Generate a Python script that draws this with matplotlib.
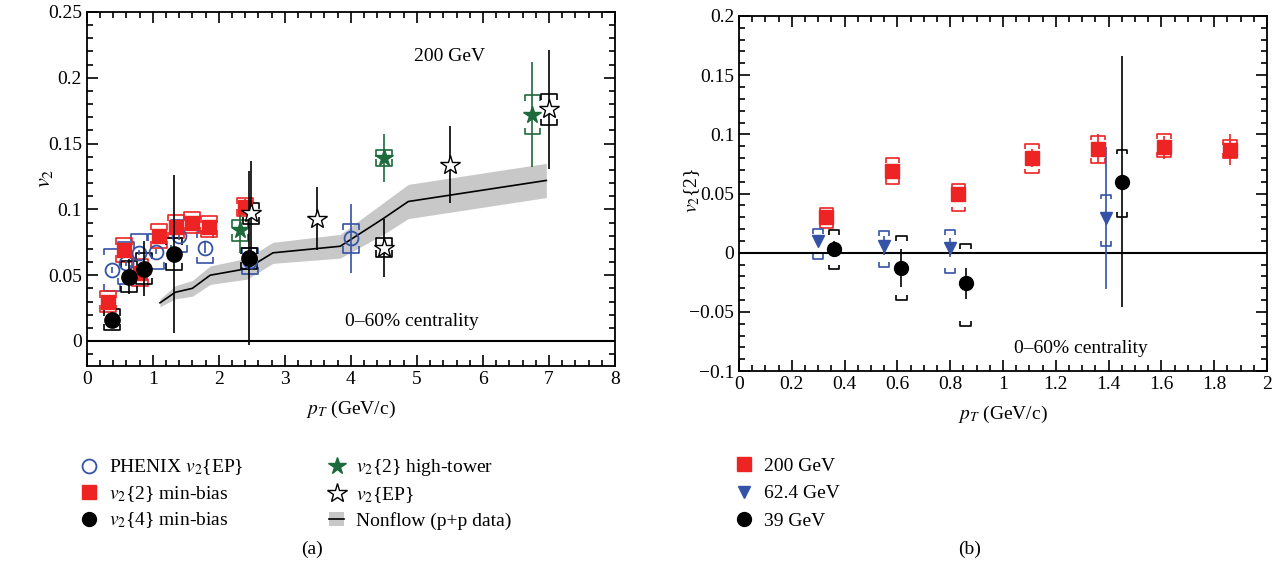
import matplotlib
matplotlib.use("Agg")
import matplotlib.pyplot as plt
from matplotlib.lines import Line2D
from matplotlib.patches import Patch
from matplotlib.legend_handler import HandlerTuple
from matplotlib.ticker import MultipleLocator, FuncFormatter

plt.rcParams['font.family'] = ['Liberation Serif', 'DejaVu Serif']
plt.rcParams['mathtext.fontset'] = 'stix'

# ---------------- Panel (a) data ----------------
phenix_x = [0.38, 0.60, 0.79, 1.05, 1.40, 1.79, 2.47, 4.00]
phenix_y = [0.054, 0.059, 0.067, 0.068, 0.080, 0.071, 0.061, 0.078]
phenix_stat = [0.002, 0.002, 0.002, 0.002, 0.003, 0.004, 0.006, 0.026]
phenix_sys = [0.016, 0.016, 0.014, 0.013, 0.012, 0.012, 0.010, 0.011]

mb2_x = [0.32, 0.57, 0.81, 1.10, 1.35, 1.60, 1.85, 2.40]
mb2_y = [0.030, 0.069, 0.052, 0.080, 0.087, 0.090, 0.087, 0.102]
mb2_stat = [0.003, 0.003, 0.003, 0.003, 0.003, 0.004, 0.004, 0.006]
mb2_sys = [0.008, 0.009, 0.010, 0.009, 0.009, 0.008, 0.008, 0.007]

mb4_x = [0.38, 0.64, 0.87, 1.32, 2.46]
mb4_y = [0.016, 0.049, 0.055, 0.066, 0.063]
mb4_stat = [0.006, 0.013, 0.021, 0.060, 0.066]
mb4_sys = [0.008, 0.012, 0.012, 0.012, 0.008]

ht_x = [2.32, 4.50, 6.75]
ht_y = [0.084, 0.139, 0.172]
ht_stat = [0.017, 0.018, 0.040]
ht_sys = [0.008, 0.006, 0.015]

ep_x = [2.49, 3.49, 4.50, 5.50, 7.00]
ep_y = [0.097, 0.093, 0.071, 0.134, 0.176]
ep_stat = [0.040, 0.024, 0.022, 0.029, 0.045]
ep_sys = [0.008, 0.0, 0.007, 0.0, 0.012]

nf_x = [1.11, 1.34, 1.60, 1.87, 2.43, 2.82, 3.84, 4.49, 4.87, 6.96]
nf_y = [0.029, 0.037, 0.040, 0.050, 0.055, 0.067, 0.072, 0.093, 0.106, 0.122]
nf_err = [0.003, 0.005, 0.006, 0.007, 0.008, 0.008, 0.009, 0.012, 0.013, 0.013]

# ---------------- Panel (b) data ----------------
r200_x = [0.33, 0.58, 0.83, 1.11, 1.36, 1.61, 1.86]
r200_y = [0.030, 0.069, 0.050, 0.080, 0.088, 0.089, 0.087]
r200_stat = [0.003, 0.003, 0.004, 0.008, 0.012, 0.010, 0.013]
r200_sys_hi = [0.038, 0.080, 0.058, 0.092, 0.099, 0.100, 0.095]
r200_sys_lo = [0.021, 0.058, 0.035, 0.067, 0.076, 0.081, 0.080]

r62_x = [0.30, 0.55, 0.80, 1.39]
r62_y = [0.010, 0.006, 0.004, 0.029]
r62_stat = [0.004, 0.008, 0.008, 0.060]
r62_sys_hi = [0.020, 0.018, 0.019, 0.049]
r62_sys_lo = [-0.005, -0.012, -0.017, 0.006]

r39_x = [0.36, 0.615, 0.858, 1.45]
r39_y = [0.003, -0.013, -0.026, 0.060]
r39_stat = [0.007, 0.016, 0.013, 0.106]
r39_sys_hi = [0.019, 0.014, 0.007, 0.087]
r39_sys_lo = [-0.014, -0.040, -0.062, 0.030]

RED = '#ee2424'
BLUE = '#3553a6'
GREEN = '#1d6b3c'
BLACK = '#000000'
GRAY = '#c8c8c8'


def brackets(ax, xs, los, his, color, hw, tick, lw=1.2, zorder=2):
    for xi, lo, hi in zip(xs, los, his):
        if hi == lo:
            continue
        ax.plot([xi - hw, xi - hw, xi + hw, xi + hw], [hi - tick, hi, hi, hi - tick],
                color=color, lw=lw, zorder=zorder, solid_capstyle='butt')
        ax.plot([xi - hw, xi - hw, xi + hw, xi + hw], [lo + tick, lo, lo, lo + tick],
                color=color, lw=lw, zorder=zorder, solid_capstyle='butt')


def fmt(v, pos):
    if abs(v) < 1e-9:
        return '0'
    s = ('%.2f' % v).rstrip('0').rstrip('.')
    return s.replace('-', '\u2212')


def style_axes(ax):
    ax.tick_params(which='both', direction='in', top=True, right=True, labelsize=14,
                   width=1.2, colors='black')
    ax.tick_params(which='major', length=8)
    ax.tick_params(which='minor', length=4.5)
    for s in ax.spines.values():
        s.set_linewidth(1.3)
    ax.yaxis.set_major_formatter(FuncFormatter(fmt))


W, H = 1287, 571
fig = plt.figure(figsize=(W / 100, H / 100), dpi=100)

# ---------------- Panel (a) ----------------
ax = fig.add_axes([86.7 / W, 1 - 366 / H, (615 - 86.7) / W, (366 - 12) / H])
ax.set_xlim(0, 8)
ax.set_ylim(-0.019, 0.25)
ax.axhline(0, color='black', lw=1.5, zorder=1)

lo = [y - e for y, e in zip(nf_y, nf_err)]
hi = [y + e for y, e in zip(nf_y, nf_err)]
ax.fill_between(nf_x, lo, hi, color=GRAY, lw=0, zorder=1)
ax.plot(nf_x, nf_y, color='black', lw=1.2, zorder=2)

hwA, tkA = 0.12, 0.005
brackets(ax, phenix_x, [y - s for y, s in zip(phenix_y, phenix_sys)],
         [y + s for y, s in zip(phenix_y, phenix_sys)], BLUE, hwA, tkA)
brackets(ax, mb2_x, [y - s for y, s in zip(mb2_y, mb2_sys)],
         [y + s for y, s in zip(mb2_y, mb2_sys)], RED, hwA, tkA)
brackets(ax, mb4_x, [y - s for y, s in zip(mb4_y, mb4_sys)],
         [y + s for y, s in zip(mb4_y, mb4_sys)], BLACK, hwA, tkA)
brackets(ax, ht_x, [y - s for y, s in zip(ht_y, ht_sys)],
         [y + s for y, s in zip(ht_y, ht_sys)], GREEN, hwA, tkA)
brackets(ax, ep_x, [y - s for y, s in zip(ep_y, ep_sys)],
         [y + s for y, s in zip(ep_y, ep_sys)], BLACK, hwA, tkA)

ax.errorbar(phenix_x, phenix_y, yerr=phenix_stat, fmt='o', ms=10, mfc='none', mec=BLUE,
            mew=1.3, ecolor=BLUE, elinewidth=1.2, capsize=0, zorder=3)
ax.errorbar(mb2_x, mb2_y, yerr=mb2_stat, fmt='s', ms=10, mfc=RED, mec=RED,
            ecolor=RED, elinewidth=1.2, capsize=0, zorder=4)
ax.errorbar(ht_x, ht_y, yerr=ht_stat, fmt='*', ms=13, mfc=GREEN, mec=GREEN,
            ecolor=GREEN, elinewidth=1.2, capsize=0, zorder=4)
ax.errorbar(mb4_x, mb4_y, yerr=mb4_stat, fmt='o', ms=11, mfc=BLACK, mec=BLACK,
            ecolor=BLACK, elinewidth=1.2, capsize=0, zorder=5)
ax.errorbar(ep_x, ep_y, yerr=ep_stat, fmt='*', ms=15, mfc='white', mec=BLACK, mew=1.0,
            ecolor=BLACK, elinewidth=1.2, capsize=0, zorder=5)

ax.text(5.5, 0.216, '200 GeV', fontsize=14, ha='center', va='center')
ax.text(4.93, 0.015, '0\u201360% centrality', fontsize=14, ha='center', va='center')

ax.xaxis.set_major_locator(MultipleLocator(1))
ax.xaxis.set_minor_locator(MultipleLocator(0.2))
ax.yaxis.set_major_locator(MultipleLocator(0.05))
ax.yaxis.set_minor_locator(MultipleLocator(0.01))
style_axes(ax)
ax.set_xlabel('$p_T$ (GeV/c)', fontsize=14, labelpad=8)
ax.set_ylabel('$v_2$', fontsize=16)
ax.yaxis.set_label_coords(-0.06, 0.53)

hA = [
    Line2D([], [], marker='o', ls='none', ms=10, mfc='none', mec=BLUE, mew=1.3),
    Line2D([], [], marker='s', ls='none', ms=10, mfc=RED, mec=RED),
    Line2D([], [], marker='o', ls='none', ms=10, mfc=BLACK, mec=BLACK),
    Line2D([], [], marker='*', ls='none', ms=13, mfc=GREEN, mec=GREEN),
    Line2D([], [], marker='*', ls='none', ms=15, mfc='white', mec=BLACK, mew=1.0),
    (Patch(facecolor=GRAY, edgecolor='none'), Line2D([], [], color='black', lw=1.2)),
]
lA = ['PHENIX $v_2${EP}', '$v_2${2} min-bias', '$v_2${4} min-bias',
      '$v_2${2} high-tower', '$v_2${EP}', 'Nonflow (p+p data)']
fig.legend(hA, lA, loc='upper left', bbox_to_anchor=(64 / W, 1 - 440 / H),
           ncol=2, frameon=False, fontsize=14, handlelength=0.8, handletextpad=0.6,
           labelspacing=0.35, columnspacing=4.4,
           handler_map={tuple: HandlerTuple(ndivide=1)})

fig.text(312 / W, 1 - 549 / H, '(a)', fontsize=14, ha='center', va='center')

# ---------------- Panel (b) ----------------
bx = fig.add_axes([739 / W, 1 - 371 / H, (1267 - 739) / W, (371 - 16) / H])
bx.set_xlim(0, 2)
bx.set_ylim(-0.1, 0.2)
bx.axhline(0, color='black', lw=1.5, zorder=1)

hwB, tkB = 0.02, 0.004
brackets(bx, r200_x, r200_sys_lo, r200_sys_hi, RED, hwB + 0.005, tkB)
brackets(bx, r62_x, r62_sys_lo, r62_sys_hi, BLUE, hwB, tkB)
brackets(bx, r39_x, r39_sys_lo, r39_sys_hi, BLACK, hwB, tkB)

bx.errorbar(r200_x, r200_y, yerr=r200_stat, fmt='s', ms=10, mfc=RED, mec=RED,
            ecolor=RED, elinewidth=1.2, capsize=0, zorder=4)
bx.errorbar(r62_x, r62_y, yerr=r62_stat, fmt='v', ms=9, mfc=BLUE, mec=BLUE,
            ecolor=BLUE, elinewidth=1.2, capsize=0, zorder=4)
bx.errorbar(r39_x, r39_y, yerr=r39_stat, fmt='o', ms=10, mfc=BLACK, mec=BLACK,
            ecolor=BLACK, elinewidth=1.2, capsize=0, zorder=5)

bx.text(1.294, -0.081, '0\u201360% centrality', fontsize=14, ha='center', va='center')

bx.xaxis.set_major_locator(MultipleLocator(0.2))
bx.xaxis.set_minor_locator(MultipleLocator(0.05))
bx.yaxis.set_major_locator(MultipleLocator(0.05))
bx.yaxis.set_minor_locator(MultipleLocator(0.01))
style_axes(bx)
bx.xaxis.set_major_formatter(FuncFormatter(fmt))
bx.set_xlabel('$p_T$ (GeV/c)', fontsize=14, labelpad=8)
bx.set_ylabel('$v_2${2}', fontsize=14)
bx.yaxis.set_label_coords(-0.07, 0.51)

hB = [
    Line2D([], [], marker='s', ls='none', ms=10, mfc=RED, mec=RED),
    Line2D([], [], marker='v', ls='none', ms=9, mfc=BLUE, mec=BLUE),
    Line2D([], [], marker='o', ls='none', ms=10, mfc=BLACK, mec=BLACK),
]
lB = ['200 GeV', '62.4 GeV', '39 GeV']
fig.legend(hB, lB, loc='upper left', bbox_to_anchor=(719 / W, 1 - 440 / H),
           ncol=1, frameon=False, fontsize=14, handlelength=0.8, handletextpad=0.6,
           labelspacing=0.5)

fig.text(970 / W, 1 - 549 / H, '(b)', fontsize=14, ha='center', va='center')

fig.savefig('out.png', dpi=100)
